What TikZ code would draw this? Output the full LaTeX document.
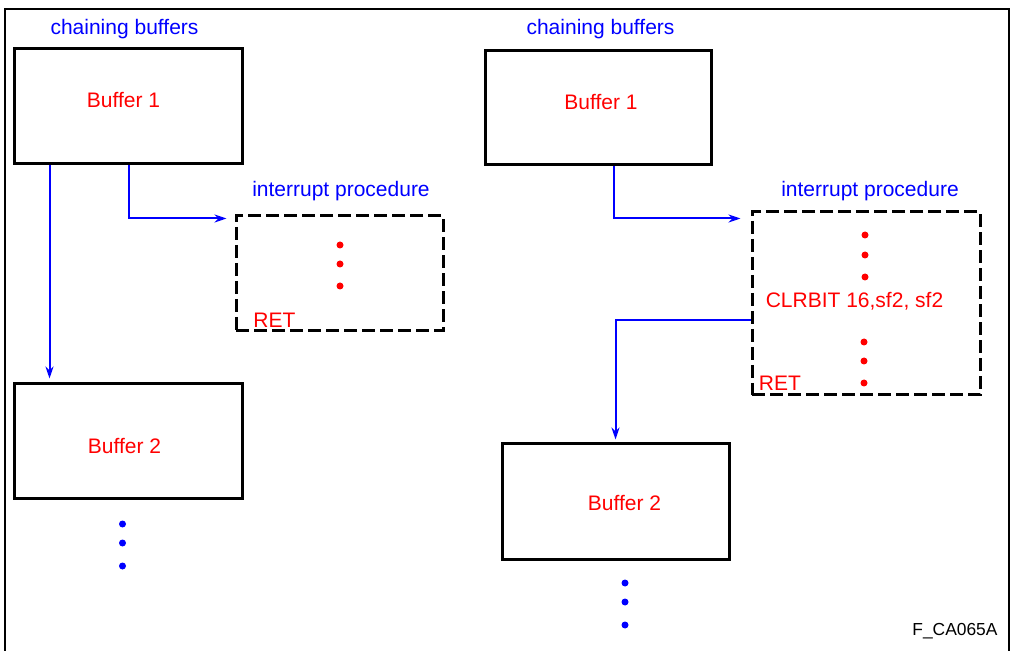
\documentclass[tikz,border=0pt]{standalone}
\usepackage{fontspec}
\setmainfont{Liberation Sans}
\usetikzlibrary{arrows.meta,positioning}
\tikzset{
  buf/.style={draw,line width=1.5pt,minimum width=114pt,minimum height=57.5pt,inner sep=0pt},
  irq/.style={draw,line width=1.5pt,dash pattern=on 6.5pt off 2.5pt,inner sep=0pt},
  flow/.style={blue,line width=1pt,-{Stealth[length=6pt,width=4pt]}},
  txt/.style={inner sep=0pt,anchor=base},
}
\begin{document}
\begin{tikzpicture}[x=0.5pt,y=-0.5pt,font=\fontsize{10.5}{12}\selectfont]
    \useasboundingbox (0,0) rectangle (1011,651);

    % cornice
    \draw[line width=1pt] (5,651) -- (5,9) -- (1009,9) -- (1009,651);

    % lato sinistro
    \node[buf] (bufA1) at (128,106.5) {};
    \node[buf] (bufA2) at (128,441.5) {};
    \node[irq,minimum width=103.5pt,minimum height=57.5pt] (irqA) at (339.5,273.5) {};
    \node[txt,blue] (capA) at (124.5,35) {chaining buffers};
    \node[txt,red] (nameA1) at (123.5,108) {Buffer 1};
    \node[txt,red] (nameA2) at (124.5,454) {Buffer 2};
    \node[txt,blue] (procA) at (341,197) {interrupt procedure};
    \node[txt,red,anchor=base west] (retA) at (253,328) {RET};
    \foreach \y in {245,264,286} \fill[red] (340,\y) circle (1.75pt);
    \foreach \y in {524,543,566} \fill[blue] (122.5,\y) circle (1.75pt);

    \draw[flow,shorten >=2pt] ([xshift=18.5pt]bufA1.south west) -- ([xshift=18.5pt]bufA2.north west);
    \draw[flow,shorten >=4pt] ([xshift=58pt]bufA1.south west) |- ([yshift=-2pt]irqA.north west);

    % lato destro
    \node[buf,minimum width=113pt,minimum height=57pt] (bufB1) at (598,108) {};
    \node[buf,minimum width=113.5pt] (bufB2) at (615.5,501.5) {};
    \node[irq,minimum width=114pt,minimum height=91.5pt] (irqB) at (866,303.5) {};
    \node[txt,blue] (capB) at (600.5,35) {chaining buffers};
    \node[txt,red] (nameB1) at (601,110) {Buffer 1};
    \node[txt,red] (nameB2) at (624.5,510) {Buffer 2};
    \node[txt,blue] (procB) at (870,197) {interrupt procedure};
    \node[txt,red] (clrB) at (854.5,308) {CLRBIT 16,sf2, sf2};
    \node[txt,red,anchor=base west] (retB) at (758.5,390.5) {RET};
    \foreach \y in {235,255,277} \fill[red] (865,\y) circle (1.75pt);
    \foreach \y in {342,361,383} \fill[red] (864,\y) circle (1.75pt);
    \foreach \y in {583,602,625} \fill[blue] (625,\y) circle (1.75pt);

    \draw[flow,shorten >=5pt] ([xshift=65.3pt]bufB1.south west) |- ([yshift=-4pt]irqB.north west);
    \draw[flow,shorten >=1.5pt] ([yshift=-55pt]irqB.north west) -| (bufB2.north);

    % sigla
    \node[txt,anchor=base west,font=\fontsize{8.7}{10}\selectfont] (figid) at (912,635.5) {F\_CA065A};
\end{tikzpicture}
\end{document}
